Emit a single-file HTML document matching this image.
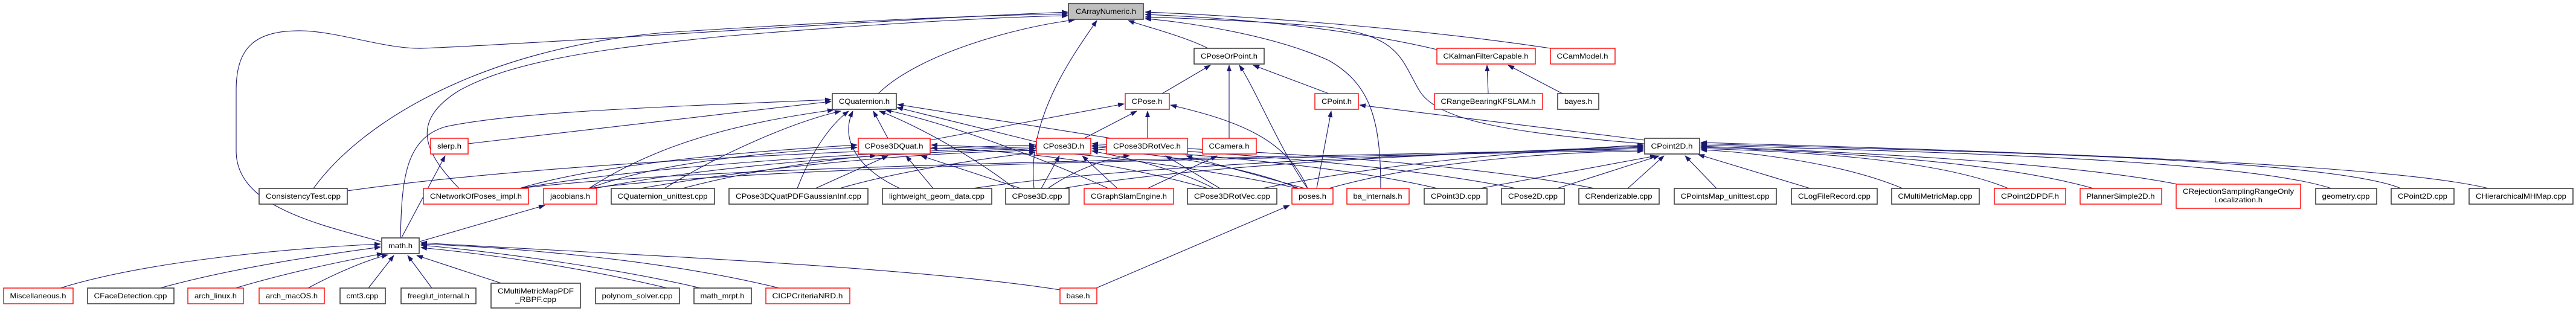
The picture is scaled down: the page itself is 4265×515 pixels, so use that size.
<!DOCTYPE html>
<html><head><meta charset="utf-8"><style>
html,body{margin:0;padding:0;background:#fff;}
svg{display:block}
text{font-family:"Liberation Sans",sans-serif;font-size:12px;fill:#000;}
.b{fill:#fff;stroke:#404040;stroke-width:1.6}
.r{fill:#fff;stroke:#ff0000;stroke-width:1.4}
.g{fill:#bfbfbf;stroke:#404040;stroke-width:1.6}
.e{fill:none;stroke:#191970;stroke-width:1.1}
</style></head><body>
<svg width="4265" height="515" viewBox="0 0 4265 515" xmlns="http://www.w3.org/2000/svg">
<defs><marker id="a" markerWidth="11" markerHeight="8" refX="10" refY="4" orient="auto" markerUnits="userSpaceOnUse"><path d="M0,0 L11,4 L0,8 z" fill="#191970"/></marker></defs>
<g class="e" marker-end="url(#a)">
<!-- to CArrayNumeric -->
<path d="M1454,155 C1520,90 1680,45 1779,33"/>
<path d="M1712,312 C1700,200 1770,100 1816,34"/>
<path d="M2000,80 C1960,60 1900,45 1868,34"/>
<path d="M631,400 C520,370 391,340 391,250 L391,150 C391,80 420,50 500,51 C560,52 640,82 700,80 C900,72 1500,30 1768,20"/>
<path d="M519,312 C600,200 800,80 1100,54 C1400,35 1600,26 1768,23"/>
<path d="M760,312 C700,250 680,200 760,150 C850,100 1000,80 1200,60 C1500,35 1700,27 1768,26"/>
<path d="M2379,82 C2200,40 2000,28 1896,24"/>
<path d="M2567,80 C2300,40 2000,24 1896,20"/>
<path d="M2723,238 C2500,220 2380,200 2350,150 C2320,100 2320,60 2200,45 C2100,35 1950,30 1896,28"/>
<path d="M2286,312 C2286,200 2270,140 2200,100 C2100,55 1950,35 1896,31"/>
<!-- to CPoseOrPoint -->
<path d="M1924,155 L2004,108"/>
<path d="M2035,229 L2035,108"/>
<path d="M2165,312 C2120,250 2080,150 2052,108"/>
<path d="M2200,155 L2075,108"/>
<!-- to CKalman -->
<path d="M2464,155 L2462,108"/>
<path d="M2587,155 L2497,108"/>
<!-- to CQuaternion -->
<path d="M1470,229 L1446,184"/>
<path d="M1716,235 L1485,178"/>
<path d="M1840,229 L1486,173"/>
<path d="M775,238 L1376,168"/>
<path d="M975,312 C1100,230 1250,200 1380,182"/>
<path d="M663,395 C665,300 670,230 737,210 C850,185 1100,177 1376,165"/>
<path d="M1100,312 C1200,250 1320,200 1392,184"/>
<path d="M1320,312 C1340,260 1370,210 1405,184"/>
<path d="M1490,312 C1420,280 1390,230 1412,184"/>
<path d="M1680,312 C1600,250 1500,200 1456,184"/>
<path d="M1835,312 C1700,250 1550,200 1466,182"/>
<!-- to CPose -->
<path d="M1540,232 L1861,172"/>
<path d="M1795,229 L1882,184"/>
<path d="M1900,229 L1900,184"/>
<path d="M2165,312 C2130,230 2050,200 1938,174"/>
<!-- to CPoint -->
<path d="M2723,232 L2251,174"/>
<path d="M2180,312 L2204,184"/>
<!-- to CPose3DQuat -->
<path d="M860,312 C1000,270 1250,250 1419,240"/>
<path d="M975,312 C1100,265 1300,250 1419,244"/>
<path d="M1130,312 C1250,280 1400,260 1450,258"/>
<path d="M1350,312 L1470,258"/>
<path d="M1545,312 L1500,258"/>
<path d="M1690,312 L1525,258"/>
<path d="M2150,312 C1900,260 1700,245 1542,240"/>
<path d="M2000,312 C1850,270 1700,250 1542,245"/>
<!-- to CPose3D.h -->
<path d="M575,316 C900,270 1400,250 1714,240"/>
<path d="M860,312 C1100,270 1500,250 1714,243"/>
<path d="M985,312 C1200,270 1500,252 1714,246"/>
<path d="M1060,312 C1300,270 1550,252 1714,249"/>
<path d="M1390,312 C1500,280 1650,260 1714,252"/>
<path d="M1724,312 L1754,258"/>
<path d="M1850,312 L1792,258"/>
<path d="M2010,312 C1950,280 1860,260 1808,250"/>
<path d="M2150,312 C2050,270 1900,255 1808,246"/>
<path d="M2380,312 C2200,270 1950,255 1808,243"/>
<path d="M2510,312 C2300,270 2000,252 1808,241"/>
<path d="M2640,312 C2400,265 2050,250 1808,238"/>
<!-- to CPose3DRotVec.h -->
<path d="M1735,312 C1780,280 1840,260 1870,258"/>
<path d="M2020,312 L1930,258"/>
<path d="M2160,312 L1964,258"/>
<!-- to CCamera -->
<path d="M1900,312 L2015,258"/>
<!-- to CPoint2D.h -->
<path d="M860,312 C1200,270 2200,260 2721,246"/>
<path d="M975,312 C1300,270 2200,262 2721,248"/>
<path d="M1610,312 C1900,270 2400,255 2721,244"/>
<path d="M1760,312 C2000,270 2400,255 2721,242"/>
<path d="M2090,312 C2300,270 2500,252 2721,240"/>
<path d="M2200,312 C2350,270 2550,252 2721,250"/>
<path d="M2450,312 L2742,258"/>
<path d="M2578,312 L2747,258"/>
<path d="M2695,312 L2755,258"/>
<path d="M2842,312 L2790,258"/>
<path d="M2997,312 L2812,256"/>
<path d="M3150,312 C3050,270 2900,252 2816,248"/>
<path d="M3325,312 C3200,260 2950,250 2816,246"/>
<path d="M3466,312 C3300,265 3000,250 2816,244"/>
<path d="M3605,305 C3400,265 3000,250 2816,242"/>
<path d="M3860,312 C3700,260 3100,250 2816,240"/>
<path d="M3975,312 C3850,260 3200,250 2816,238"/>
<path d="M4120,312 C3950,270 3300,250 2816,236"/>
<!-- math.h -->
<path d="M664,395 L737,258"/>
<path d="M695,400 L902,340"/>
<path d="M100,477 C250,430 500,410 630,404"/>
<path d="M265,477 C400,440 550,420 630,409"/>
<path d="M390,477 C480,450 580,430 634,420"/>
<path d="M510,477 C560,450 610,430 642,422"/>
<path d="M610,477 L652,423"/>
<path d="M715,477 L675,423"/>
<path d="M830,469 L690,423"/>
<path d="M1105,477 C950,440 800,420 697,410"/>
<path d="M1160,477 C1000,440 800,415 697,406"/>
<path d="M1290,477 C1100,430 850,410 697,404"/>
<path d="M1755,480 C1500,440 1000,420 697,402"/>
<path d="M1815,477 L2135,340"/>
</g>
<g>
<!-- Row1 -->
<rect class="g" x="1769" y="6" width="124" height="26"/><text x="1831" y="23" text-anchor="middle" textLength="100" lengthAdjust="spacingAndGlyphs">CArrayNumeric.h</text>
<!-- Row2 -->
<rect class="b" x="1977" y="80" width="116" height="26"/><text x="2035" y="97" text-anchor="middle" textLength="94" lengthAdjust="spacingAndGlyphs">CPoseOrPoint.h</text>
<rect class="r" x="2379" y="80" width="163" height="26"/><text x="2460" y="97" text-anchor="middle" textLength="141" lengthAdjust="spacingAndGlyphs">CKalmanFilterCapable.h</text>
<rect class="r" x="2567" y="80" width="107" height="26"/><text x="2620" y="97" text-anchor="middle" textLength="85" lengthAdjust="spacingAndGlyphs">CCamModel.h</text>
<!-- Row3 -->
<rect class="b" x="1378" y="155" width="106" height="26"/><text x="1431" y="172" text-anchor="middle" textLength="84" lengthAdjust="spacingAndGlyphs">CQuaternion.h</text>
<rect class="r" x="1863" y="155" width="73" height="26"/><text x="1899" y="172" text-anchor="middle" textLength="51" lengthAdjust="spacingAndGlyphs">CPose.h</text>
<rect class="r" x="2177" y="155" width="72" height="26"/><text x="2213" y="172" text-anchor="middle" textLength="50" lengthAdjust="spacingAndGlyphs">CPoint.h</text>
<rect class="r" x="2375" y="155" width="179" height="26"/><text x="2464" y="172" text-anchor="middle" textLength="157" lengthAdjust="spacingAndGlyphs">CRangeBearingKFSLAM.h</text>
<rect class="b" x="2579" y="155" width="68" height="26"/><text x="2613" y="172" text-anchor="middle" textLength="46" lengthAdjust="spacingAndGlyphs">bayes.h</text>
<!-- Row4 -->
<rect class="r" x="713" y="229" width="62" height="26"/><text x="744" y="246" text-anchor="middle" textLength="40" lengthAdjust="spacingAndGlyphs">slerp.h</text>
<rect class="r" x="1421" y="229" width="119" height="26"/><text x="1480" y="246" text-anchor="middle" textLength="97" lengthAdjust="spacingAndGlyphs">CPose3DQuat.h</text>
<rect class="r" x="1716" y="229" width="90" height="26"/><text x="1761" y="246" text-anchor="middle" textLength="68" lengthAdjust="spacingAndGlyphs">CPose3D.h</text>
<rect class="r" x="1832" y="229" width="134" height="26"/><text x="1899" y="246" text-anchor="middle" textLength="112" lengthAdjust="spacingAndGlyphs">CPose3DRotVec.h</text>
<rect class="r" x="1991" y="229" width="89" height="26"/><text x="2035" y="246" text-anchor="middle" textLength="67" lengthAdjust="spacingAndGlyphs">CCamera.h</text>
<rect class="b" x="2723" y="229" width="91" height="26"/><text x="2768" y="246" text-anchor="middle" textLength="69" lengthAdjust="spacingAndGlyphs">CPoint2D.h</text>
<!-- Row5 -->
<rect class="b" x="429" y="312" width="146" height="26"/><text x="502" y="329" text-anchor="middle" textLength="124" lengthAdjust="spacingAndGlyphs">ConsistencyTest.cpp</text>
<rect class="r" x="701" y="312" width="174" height="26"/><text x="788" y="329" text-anchor="middle" textLength="152" lengthAdjust="spacingAndGlyphs">CNetworkOfPoses_impl.h</text>
<rect class="r" x="900" y="312" width="88" height="26"/><text x="944" y="329" text-anchor="middle" textLength="66" lengthAdjust="spacingAndGlyphs">jacobians.h</text>
<rect class="b" x="1012" y="312" width="171" height="26"/><text x="1097" y="329" text-anchor="middle" textLength="149" lengthAdjust="spacingAndGlyphs">CQuaternion_unittest.cpp</text>
<rect class="b" x="1207" y="312" width="230" height="26"/><text x="1322" y="329" text-anchor="middle" textLength="208" lengthAdjust="spacingAndGlyphs">CPose3DQuatPDFGaussianInf.cpp</text>
<rect class="b" x="1461" y="312" width="181" height="26"/><text x="1551" y="329" text-anchor="middle" textLength="158" lengthAdjust="spacingAndGlyphs">lightweight_geom_data.cpp</text>
<rect class="b" x="1665" y="312" width="105" height="26"/><text x="1717" y="329" text-anchor="middle" textLength="83" lengthAdjust="spacingAndGlyphs">CPose3D.cpp</text>
<rect class="r" x="1795" y="312" width="148" height="26"/><text x="1869" y="329" text-anchor="middle" textLength="126" lengthAdjust="spacingAndGlyphs">CGraphSlamEngine.h</text>
<rect class="b" x="1966" y="312" width="148" height="26"/><text x="2040" y="329" text-anchor="middle" textLength="126" lengthAdjust="spacingAndGlyphs">CPose3DRotVec.cpp</text>
<rect class="r" x="2139" y="312" width="68" height="26"/><text x="2173" y="329" text-anchor="middle" textLength="46" lengthAdjust="spacingAndGlyphs">poses.h</text>
<rect class="r" x="2230" y="312" width="103" height="26"/><text x="2281" y="329" text-anchor="middle" textLength="81" lengthAdjust="spacingAndGlyphs">ba_internals.h</text>
<rect class="b" x="2358" y="312" width="104" height="26"/><text x="2410" y="329" text-anchor="middle" textLength="82" lengthAdjust="spacingAndGlyphs">CPoint3D.cpp</text>
<rect class="b" x="2486" y="312" width="104" height="26"/><text x="2538" y="329" text-anchor="middle" textLength="82" lengthAdjust="spacingAndGlyphs">CPose2D.cpp</text>
<rect class="b" x="2614" y="312" width="133" height="26"/><text x="2680" y="329" text-anchor="middle" textLength="111" lengthAdjust="spacingAndGlyphs">CRenderizable.cpp</text>
<rect class="b" x="2772" y="312" width="169" height="26"/><text x="2856" y="329" text-anchor="middle" textLength="147" lengthAdjust="spacingAndGlyphs">CPointsMap_unittest.cpp</text>
<rect class="b" x="2966" y="312" width="142" height="26"/><text x="3037" y="329" text-anchor="middle" textLength="120" lengthAdjust="spacingAndGlyphs">CLogFileRecord.cpp</text>
<rect class="b" x="3132" y="312" width="145" height="26"/><text x="3204" y="329" text-anchor="middle" textLength="123" lengthAdjust="spacingAndGlyphs">CMultiMetricMap.cpp</text>
<rect class="r" x="3302" y="312" width="118" height="26"/><text x="3361" y="329" text-anchor="middle" textLength="96" lengthAdjust="spacingAndGlyphs">CPoint2DPDF.h</text>
<rect class="r" x="3444" y="312" width="135" height="26"/><text x="3511" y="329" text-anchor="middle" textLength="113" lengthAdjust="spacingAndGlyphs">PlannerSimple2D.h</text>
<rect class="r" x="3603" y="305" width="206" height="40"/><text x="3706" y="321" text-anchor="middle" textLength="184" lengthAdjust="spacingAndGlyphs">CRejectionSamplingRangeOnly</text><text x="3706" y="335" text-anchor="middle" textLength="80" lengthAdjust="spacingAndGlyphs">Localization.h</text>
<rect class="b" x="3834" y="312" width="101" height="26"/><text x="3884" y="329" text-anchor="middle" textLength="79" lengthAdjust="spacingAndGlyphs">geometry.cpp</text>
<rect class="b" x="3959" y="312" width="104" height="26"/><text x="4011" y="329" text-anchor="middle" textLength="82" lengthAdjust="spacingAndGlyphs">CPoint2D.cpp</text>
<rect class="b" x="4088" y="312" width="172" height="26"/><text x="4174" y="329" text-anchor="middle" textLength="150" lengthAdjust="spacingAndGlyphs">CHierarchicalMHMap.cpp</text>
<!-- math -->
<rect class="b" x="632" y="394" width="62" height="26"/><text x="663" y="411" text-anchor="middle" textLength="40" lengthAdjust="spacingAndGlyphs">math.h</text>
<!-- Row7 -->
<rect class="r" x="6" y="477" width="115" height="26"/><text x="63" y="494" text-anchor="middle" textLength="93" lengthAdjust="spacingAndGlyphs">Miscellaneous.h</text>
<rect class="b" x="145" y="477" width="143" height="26"/><text x="216" y="494" text-anchor="middle" textLength="121" lengthAdjust="spacingAndGlyphs">CFaceDetection.cpp</text>
<rect class="r" x="311" y="477" width="92" height="26"/><text x="357" y="494" text-anchor="middle" textLength="70" lengthAdjust="spacingAndGlyphs">arch_linux.h</text>
<rect class="r" x="429" y="477" width="108" height="26"/><text x="483" y="494" text-anchor="middle" textLength="86" lengthAdjust="spacingAndGlyphs">arch_macOS.h</text>
<rect class="b" x="563" y="477" width="75" height="26"/><text x="600" y="494" text-anchor="middle" textLength="53" lengthAdjust="spacingAndGlyphs">cmt3.cpp</text>
<rect class="b" x="664" y="477" width="124" height="26"/><text x="726" y="494" text-anchor="middle" textLength="102" lengthAdjust="spacingAndGlyphs">freeglut_internal.h</text>
<rect class="b" x="813" y="469" width="148" height="41"/><text x="887" y="486" text-anchor="middle" textLength="126" lengthAdjust="spacingAndGlyphs">CMultiMetricMapPDF</text><text x="887" y="500" text-anchor="middle" textLength="68" lengthAdjust="spacingAndGlyphs">_RBPF.cpp</text>
<rect class="b" x="986" y="477" width="139" height="26"/><text x="1055" y="494" text-anchor="middle" textLength="117" lengthAdjust="spacingAndGlyphs">polynom_solver.cpp</text>
<rect class="b" x="1149" y="477" width="95" height="26"/><text x="1196" y="494" text-anchor="middle" textLength="73" lengthAdjust="spacingAndGlyphs">math_mrpt.h</text>
<rect class="r" x="1268" y="477" width="139" height="26"/><text x="1337" y="494" text-anchor="middle" textLength="117" lengthAdjust="spacingAndGlyphs">CICPCriteriaNRD.h</text>
<rect class="r" x="1755" y="477" width="61" height="26"/><text x="1785" y="494" text-anchor="middle" textLength="39" lengthAdjust="spacingAndGlyphs">base.h</text>
</g>
</svg>
</body></html>
